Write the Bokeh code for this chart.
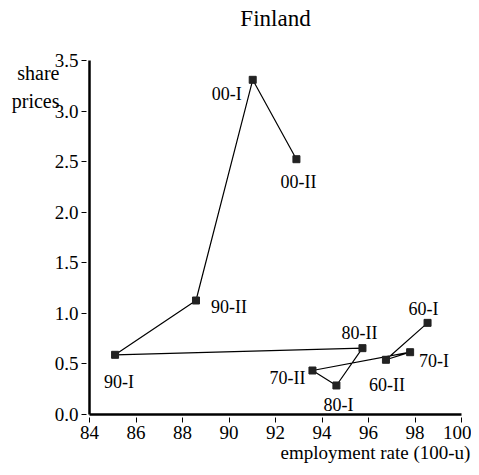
from bokeh.plotting import figure
from bokeh.models import ColumnDataSource, Range1d, FixedTicker, Title, LinearAxis
from bokeh.embed import file_html
from bokeh.resources import INLINE
from bokeh.core.properties import value

# ---- data ----
periods = ["60-I", "60-II", "70-I", "70-II", "80-I", "80-II", "90-I", "90-II", "00-I", "00-II"]
employment = [98.54, 96.75, 97.79, 93.59, 94.62, 95.74, 85.10, 88.58, 91.02, 92.90]
share_prices = [0.906, 0.541, 0.616, 0.435, 0.287, 0.656, 0.590, 1.127, 3.309, 2.524]
x_ticks = [84, 86, 88, 90, 92, 94, 96, 98, 100]
y_ticks = [0.0, 0.5, 1.0, 1.5, 2.0, 2.5, 3.0, 3.5]
title_text = "Finland"
x_label = "employment rate (100-u)"
y_label_lines = ["share", "prices"]

# ---- placement / style ----
label_dx = [-4, 1, 9, -7, 2, -3, 4, 15, -11, 2]
label_dy = [-14, 25, 9, 7, 20, -15, 27, 6, 14, 23]
label_align = ["center", "center", "left", "right", "center", "center", "center", "left", "right", "center"]
y_label_pos = [3.381, 3.10]   # vertical placement of the two y-caption lines
x_label_pos = [96.3]          # horizontal centre of the x caption
X_MIN, X_MAX = 84, 100
Y_MIN, Y_MAX = 0.0, 3.5
TOP_PAD = 30                  # frame extends 30px above the 3.5 tick (invisible)
PLOT_TOP, PLOT_BOTTOM = 60, 414
y_frame_top = Y_MAX + (Y_MAX - Y_MIN) * (PLOT_TOP - TOP_PAD) / (PLOT_BOTTOM - PLOT_TOP)

FONT = "Liberation Serif"

src = ColumnDataSource(dict(x=employment, y=share_prices, label=periods,
                            dx=label_dx, dy=label_dy, align=label_align))

p = figure(width=471, height=467, output_backend="svg", toolbar_location=None,
           x_range=Range1d(X_MIN, X_MAX), y_range=Range1d(Y_MIN, y_frame_top),
           min_border_left=89, min_border_right=10, min_border_top=TOP_PAD, min_border_bottom=53)
p.outline_line_color = None
p.grid.visible = False
p.background_fill_color = "white"
p.border_fill_color = "white"

for ax in (p.xaxis[0], p.yaxis[0]):
    ax.axis_line_width = 2.5
    ax.axis_line_color = "black"
    ax.major_tick_line_color = "black"
    ax.major_tick_line_width = 1
    ax.major_tick_in = -3
    ax.major_tick_out = 8
    ax.minor_tick_line_color = None
    ax.major_label_text_font = FONT
    ax.major_label_text_font_size = "19px"
    ax.major_label_text_color = "black"
    ax.major_label_standoff = 3

p.xaxis[0].ticker = FixedTicker(ticks=x_ticks)
p.yaxis[0].ticker = FixedTicker(ticks=y_ticks)
p.yaxis[0].bounds = (Y_MIN, Y_MAX)
p.yaxis[0].major_label_overrides = {t: f"{t:.1f}" for t in y_ticks}

# y-axis caption, written as two horizontal lines at the top-left
cap_axis = LinearAxis(ticker=FixedTicker(ticks=y_label_pos),
                      major_label_overrides=dict(zip(y_label_pos, y_label_lines)),
                      axis_line_color=None, major_tick_line_color=None, minor_tick_line_color=None,
                      major_tick_in=0, major_tick_out=0, major_label_standoff=-8,
                      major_label_text_font=FONT, major_label_text_font_size="20px",
                      major_label_text_color="black")
p.add_layout(cap_axis, "left")

# x-axis caption, under the tick labels towards the right
xcap_axis = LinearAxis(ticker=FixedTicker(ticks=x_label_pos),
                       major_label_overrides={x_label_pos[0]: x_label},
                       axis_line_color=None, major_tick_line_color=None, minor_tick_line_color=None,
                       major_tick_in=0, major_tick_out=0, major_label_standoff=0,
                       major_label_text_font=FONT, major_label_text_font_size="19px",
                       major_label_text_color="black")
p.add_layout(xcap_axis, "below")

p.line("x", "y", source=src, line_color="black", line_width=1.2)
p.scatter("x", "y", source=src, marker="square", size=7, fill_color="#222222", line_color="#222222")
p.text("x", "y", text="label", source=src, x_offset="dx", y_offset="dy", text_align="align",
       text_baseline="alphabetic", text_font=value(FONT), text_font_size="18px", text_color="black")

# title (above)
p.add_layout(Title(text=title_text, text_font=FONT, text_font_size="23px", text_font_style="normal",
                   align="center", vertical_align="bottom", standoff=0, text_color="black"), "above")

open("out.html", "w").write(file_html(p, INLINE))
